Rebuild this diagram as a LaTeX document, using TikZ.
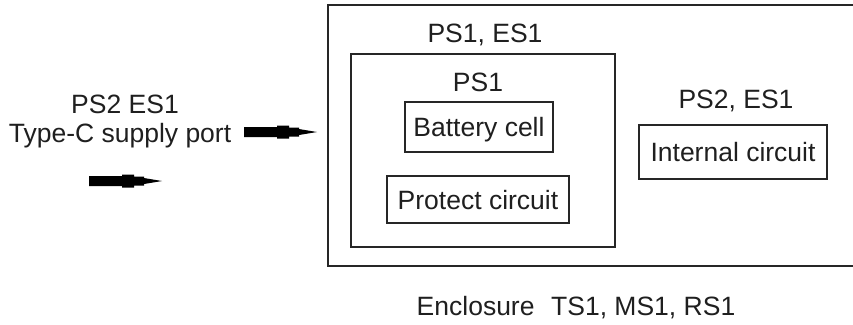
\documentclass[tikz,border=0pt]{standalone}
\usepackage{fontspec}
\setmainfont{Liberation Sans}
\begin{document}
\begin{tikzpicture}[x=1pt,y=-1pt,
  every node/.style={font=\fontsize{26.5}{31}\selectfont, text=black!88},
  box/.style={draw=black!85, line width=1.6pt, inner sep=0pt, text height=19pt, text depth=0pt},
  lbl/.style={anchor=base, inner sep=0pt},
  fatarrow/.style={fill=black, draw=none}]
\useasboundingbox (0,0) rectangle (853,324);
% outer enclosure (right side cut off by the page edge)
\begin{scope}
  \clip (0,0) rectangle (853,324);
  \node[draw=black!85, line width=1.6pt, inner sep=0pt, minimum width=543pt, minimum height=261pt, anchor=north west] (outer) at (327,4) {};
\end{scope}
% inner PS1 block
\node[draw=black!85, line width=1.6pt, inner sep=0pt, minimum width=264pt, minimum height=193pt, anchor=north west] (inner) at (350,53) {};
\node[box, minimum width=148pt, minimum height=50pt] (battery) at (479,127) {Battery cell};
\node[box, minimum width=182pt, minimum height=47pt] (protect) at (478,199.5) {Protect circuit};
\node[box, minimum width=188pt, minimum height=54pt] (internal) at (733,152) {Internal circuit};
% labels
\node[lbl] (lps1es1) at (485,42) {PS1, ES1};
\node[lbl] (lps1) at (478,91) {PS1};
\node[lbl] (lps2es1) at (736,108) {PS2, ES1};
\node[lbl] (lport1) at (125,113) {PS2 ES1};
\node[lbl] (lport2) at (120,142) {Type-C supply port};
\node[lbl] (lencl) at (576,315) {Enclosure\hspace{0.35em} TS1, MS1, RS1};
% arrows
\coordinate (a1) at (244,132);
\coordinate (a2) at (89,181);
\foreach \s in {a1,a2}{
  \fill[fatarrow] ([shift={(0,-5)}]\s) -- ++(33,0) -- ++(0,-1.5) -- ++(12,0) -- ++(0,2) -- ++(10,0) -- ++(0,1.5)
     -- ++(18,3) -- ++(-18,3) -- ++(0,1.5) -- ++(-10,0) -- ++(0,2) -- ++(-12,0) -- ++(0,-1.5) -- ++(-33,0) -- cycle;
}
\end{tikzpicture}
\end{document}
